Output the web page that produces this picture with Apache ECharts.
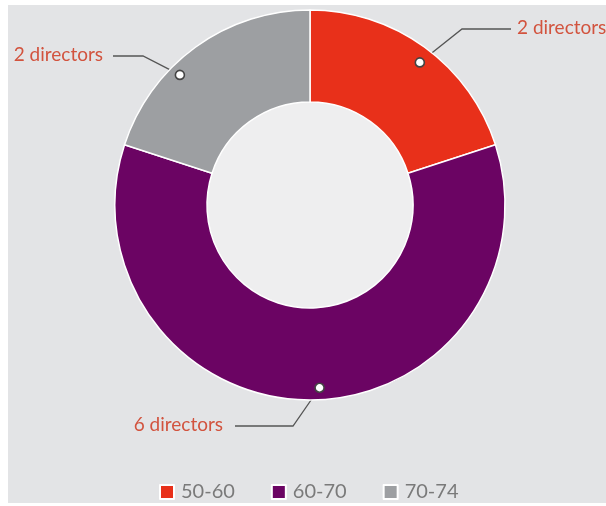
<!DOCTYPE html>
<html>
<head>
<meta charset="utf-8">
<script src="https://cdn.jsdelivr.net/npm/echarts@6/dist/echarts.min.js"></script>
<style>
  html, body { margin: 0; padding: 0; background: #ffffff; }
  #chart { position: absolute; left: 8px; top: 5px; width: 598px; height: 498px; background: #e3e4e6; }
</style>
</head>
<body>
<div id="chart"></div>
<script>
// ---- data ----
const categories = ['50-60', '60-70', '70-74'];
const directors = [2, 6, 2];
const colors = ['#e8301a', '#6b0463', '#9d9fa2'];

// ---- annotation layout ----
const CENTER = [302, 200];
const dotRadius = [180, 183, 184];          // px from centre
const dotAngle = [37.6, 177, 315];          // degrees clockwise from 12 o'clock
const labelAnchor = [[509, 23, 'left'], [215, 420, 'right'], [95, 50, 'right']];
const labelElbow = [[454, 24], [285, 421], [135, 51]];
const labelLineEnd = [[503, 24], [227, 421], [105, 51]];

function dotPixel(i) {
  const a = dotAngle[i] * Math.PI / 180;
  return [CENTER[0] + dotRadius[i] * Math.sin(a), CENTER[1] - dotRadius[i] * Math.cos(a)];
}

const chart = echarts.init(document.getElementById('chart'), null, { renderer: 'canvas' });

const option = {
  backgroundColor: '#e3e4e6',
  animation: false,
  legend: {
    data: categories,
    top: 472,
    left: 146,
    icon: 'rect',
    itemWidth: 14,
    itemHeight: 14,
    itemGap: 36,
    textStyle: { fontFamily: 'Lato', fontSize: 20, color: '#7a7a7a', padding: [0, 0, 0, 2] }
  },
  polar: { center: CENTER, radius: 195 },
  angleAxis: { type: 'value', min: 0, max: 360, startAngle: 90, clockwise: true, show: false },
  radiusAxis: { type: 'value', min: 0, max: 195, show: false },
  series: [
    {
      type: 'pie',
      silent: true,
      center: CENTER,
      radius: [0, 103],
      z: 1,
      label: { show: false },
      labelLine: { show: false },
      itemStyle: { color: '#eeeeef' },
      data: [{ value: 1, name: '' }],
      legendHoverLink: false
    },
    {
      type: 'pie',
      center: CENTER,
      radius: [103, 195],
      startAngle: 90,
      clockwise: true,
      z: 2,
      itemStyle: { borderColor: '#ffffff', borderWidth: 1.5 },
      label: {
        show: true,
        position: 'outside',
        formatter: '{c} directors',
        fontFamily: 'Lato',
        fontSize: 19,
        color: '#d2533e'
      },
      labelLine: { show: true, lineStyle: { color: '#555555', width: 1.3 } },
      labelLayout: function (params) {
        const i = params.dataIndex;
        const p = labelAnchor[i];
        return {
          x: p[0],
          y: p[1],
          align: p[2],
          verticalAlign: 'middle',
          labelLinePoints: [dotPixel(i), labelElbow[i].slice(), labelLineEnd[i].slice()]
        };
      },
      data: categories.map((c, i) => ({ name: c, value: directors[i], itemStyle: { color: colors[i] } }))
    },
    {
      type: 'scatter',
      coordinateSystem: 'polar',
      z: 5,
      silent: true,
      symbol: 'circle',
      symbolSize: 9,
      itemStyle: { color: '#ffffff', borderColor: '#444444', borderWidth: 1.6, opacity: 1 },
      data: dotAngle.map((a, i) => [dotRadius[i], a])
    }
  ]
};

chart.setOption(option);
</script>
</body>
</html>
